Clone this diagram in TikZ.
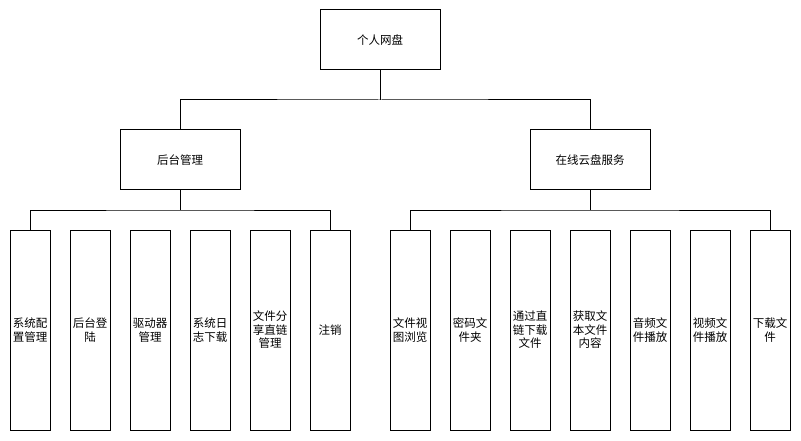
\documentclass[tikz,border=0pt]{standalone}
\usepackage{fontspec}
\newfontfamily\cjk{Noto Sans CJK SC}
\begin{document}
\begin{tikzpicture}[x=1pt,y=-1pt,
  box/.style={draw=black,line width=1pt,fill=white,inner sep=0pt,
    font=\cjk\fontsize{11.5}{13.5}\selectfont,align=center},
  topbox/.style={box,minimum width=120pt,minimum height=60pt},
  leaf/.style={box,minimum width=40pt,minimum height=200pt},
  link/.style={draw=black,line width=1pt}]
\useasboundingbox (0,0) rectangle (801,441);
% root and second level
\node[topbox] (root) at (380,40) {个人网盘};
\node[topbox] (admin) at (180,160) {后台管理};
\node[topbox] (cloud) at (590,160) {在线云盘服务};
% back-end functions
\node[leaf] (a1) at (30,330) {系统配\\置管理};
\node[leaf] (a2) at (90,330) {后台登\\陆};
\node[leaf] (a3) at (150,330) {驱动器\\管理};
\node[leaf] (a4) at (210,330) {系统日\\志下载};
\node[leaf] (a5) at (270,330) {文件分\\享直链\\管理};
\node[leaf] (a6) at (330,330) {注销};
% cloud services
\node[leaf] (b1) at (410,330) {文件视\\图浏览};
\node[leaf] (b2) at (470,330) {密码文\\件夹};
\node[leaf] (b3) at (530,330) {通过直\\链下载\\文件};
\node[leaf] (b4) at (590,330) {获取文\\本文件\\内容};
\node[leaf] (b5) at (650,330) {音频文\\件播放};
\node[leaf] (b6) at (710,330) {视频文\\件播放};
\node[leaf] (b7) at (770,330) {下载文\\件};
% tree connectors
\coordinate (j0) at (380,100);
\draw[link] (root.south) -- (j0);
\draw[link] (admin.north) |- (j0) -| (cloud.north);
\coordinate (j1) at (180,210);
\draw[link] (admin.south) -- (j1);
\draw[link] (a1.north) |- (j1) -| (a6.north);
\coordinate (j2) at (590,210);
\draw[link] (cloud.south) -- (j2);
\draw[link] (b1.north) |- (j2) -| (b7.north);
\end{tikzpicture}
\end{document}
